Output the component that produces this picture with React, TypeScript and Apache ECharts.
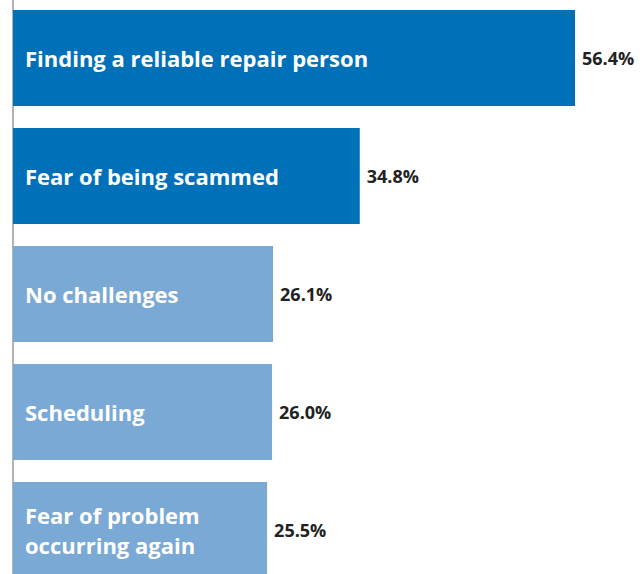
import React, { useEffect, useRef } from "react";
import * as echarts from "echarts";

const categories = [
  "Finding a reliable repair person",
  "Fear of being scammed",
  "No challenges",
  "Scheduling",
  "Fear of problem\noccurring again",
];
const values = [56.4, 34.8, 26.1, 26.0, 25.5];

export default function App() {
  const ref = useRef<HTMLDivElement>(null);
  useEffect(() => {
    if (!ref.current) return;
    const chart = echarts.init(ref.current, undefined, { renderer: "svg" });
    chart.setOption({
      animation: false,
      grid: { left: 13, top: 0, height: 590, width: 562 * 60 / 56.4 },
      xAxis: {
        type: "value",
        min: 0,
        max: 60,
        show: false,
      },
      yAxis: {
        type: "category",
        data: categories,
        inverse: true,
        offset: 12,
        axisLine: { show: true, lineStyle: { color: "#b3b3b3", width: 2 } },
        axisTick: { show: false },
        axisLabel: { show: false },
      },
      series: [
        {
          type: "bar",
          data: values,
          barCategoryGap: "18.6%",
          itemStyle: {
            color: (p: any) => (p.dataIndex < 2 ? "#0071b9" : "#7aa9d6"),
          },
          label: {
            show: true,
            position: "insideLeft",
            distance: 12,
            formatter: (p: any) => p.name,
            color: "#ffffff",
            fontFamily: "Open Sans",
            fontWeight: "bold",
            fontSize: 22,
            lineHeight: 30,
          },
        },
        {
          type: "bar",
          data: values,
          barGap: "-100%",
          barCategoryGap: "18.6%",
          itemStyle: { color: "transparent" },
          silent: true,
          label: {
            show: true,
            position: "right",
            distance: 7,
            formatter: (p: any) => p.value.toFixed(1) + "%",
            color: "#222222",
            fontFamily: "Open Sans",
            fontWeight: "bold",
            fontSize: 18,
          },
        },
      ],
    });
    return () => chart.dispose();
  }, []);
  return (
    <div
      style={{ position: "fixed", left: 0, top: 0, width: 640, height: 574, overflow: "hidden", background: "#fff" }}
    >
      <div ref={ref} style={{ position: "absolute", left: 0, top: -1, width: 640, height: 600 }} />
    </div>
  );
}
